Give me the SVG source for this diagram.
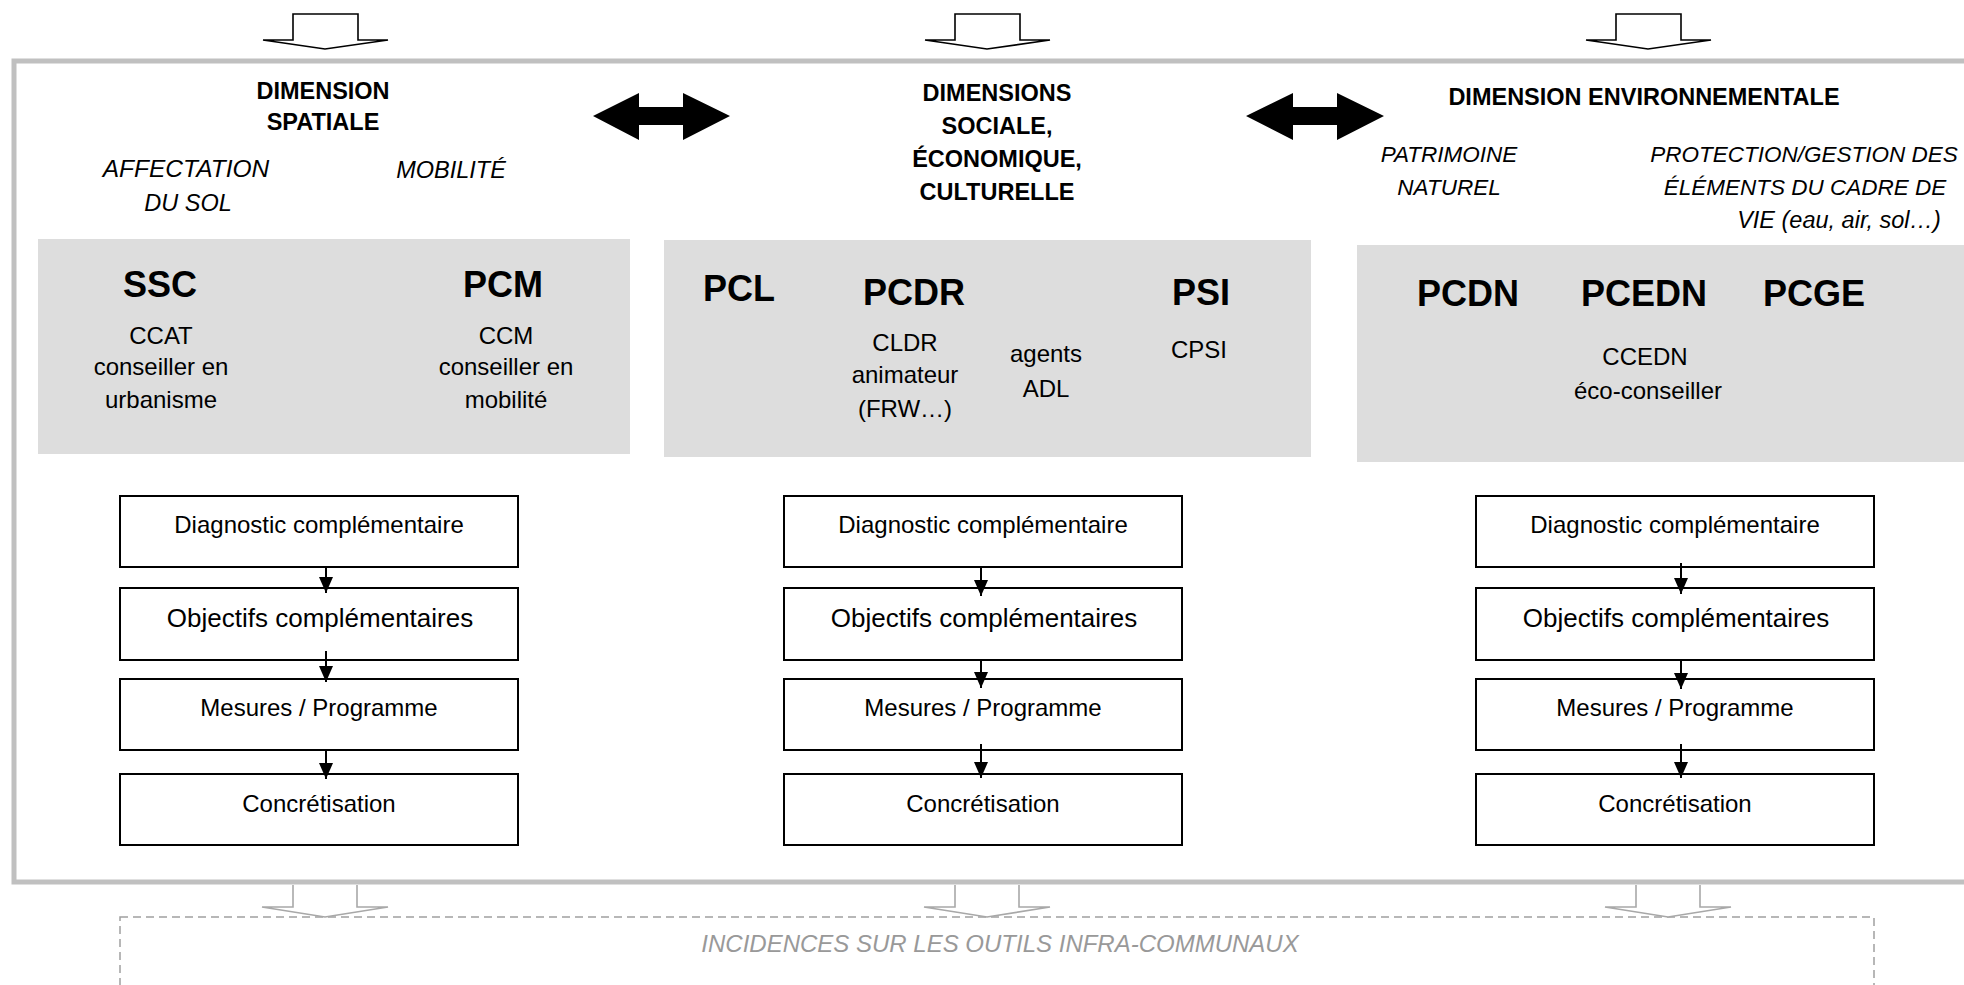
<svg xmlns="http://www.w3.org/2000/svg" width="1964" height="985" viewBox="0 0 1964 985">
<style>
text{font-family:"Liberation Sans",Arial,sans-serif;fill:#000;text-anchor:middle}
.h{font-weight:bold;font-size:23.5px}
.it{font-style:italic;font-size:23.5px}
.it2{font-style:italic;font-size:22.5px}
.big{font-weight:bold;font-size:36px}
.sm{font-size:24px}
.bx{font-size:24px}
.obj{font-size:26px}
.inc{font-style:italic;font-size:24px;fill:#999}
.blk{fill:#dddddd;stroke:none}
.step{fill:#fff;stroke:#000;stroke-width:2}
.tarr{fill:#fff;stroke:#000;stroke-width:1.6;stroke-linejoin:miter}
.barr{fill:#fff;stroke:#a8a8a8;stroke-width:1.6}
.dbl{fill:#000}
.con{stroke:#000;stroke-width:2;fill:none}
</style>
<defs>
<marker id="ah" markerWidth="16" markerHeight="14" refX="16" refY="7" orient="auto" markerUnits="userSpaceOnUse" viewBox="0 0 16 14">
<path d="M0,0 L16,7 L0,14 Z" fill="#000"/>
</marker>
</defs>
<rect width="1964" height="985" fill="#fff"/>

<!-- dashed bottom box -->
<g id="incidences">
<rect x="120" y="917" width="1754" height="120" fill="none" stroke="#a0a0a0" stroke-width="1.5" stroke-dasharray="8 5"/>
<text class="inc" x="1000" y="952">INCIDENCES SUR LES OUTILS INFRA-COMMUNAUX</text>
</g>

<!-- main frame -->
<g id="frame">
<rect x="14" y="61" width="1990" height="821" fill="#fff" stroke="#c0c0c0" stroke-width="5"/>
</g>

<!-- top input arrows -->
<g id="top-arrows">
<path class="tarr" d="M293,14 H358 V40 H388 L325,49 L263,40 H293 Z"/>
<path class="tarr" d="M955,14 H1020 V40 H1050 L987,49 L925,40 H955 Z"/>
<path class="tarr" d="M1616,14 H1681 V40 H1711 L1648,49 L1586,40 H1616 Z"/>
</g>

<!-- bottom output arrows -->
<g id="bottom-arrows">
<path class="barr" d="M293,885 V907 H262 L325,917 L388,907 H357 V885"/>
<path class="barr" d="M955,885 V907 H924 L987,917 L1050,907 H1019 V885"/>
<path class="barr" d="M1636,885 V907 H1605 L1668,917 L1731,907 H1700 V885"/>
</g>

<!-- double arrows -->
<g id="double-arrows">
<path class="dbl" d="M593,116 L639,93 V107 H683 V93 L730,116 L683,140 V125 H639 V140 Z"/>
<path class="dbl" d="M1246,116 L1293,93 V107 H1337 V93 L1384,116 L1337,140 V125 H1293 V140 Z"/>
</g>

<!-- headers -->
<g id="dim-spatiale">
<text class="h" x="323" y="99">DIMENSION</text>
<text class="h" x="323" y="130">SPATIALE</text>
<text class="it" x="186" y="177" style="font-size:24.5px">AFFECTATION</text>
<text class="it" x="188" y="211">DU SOL</text>
<text class="it" x="451" y="178">MOBILITÉ</text>
</g>
<g id="dim-sociale">
<text class="h" x="997" y="101">DIMENSIONS</text>
<text class="h" x="997" y="134">SOCIALE,</text>
<text class="h" x="997" y="167">ÉCONOMIQUE,</text>
<text class="h" x="997" y="200">CULTURELLE</text>
</g>
<g id="dim-env">
<text class="h" x="1644" y="105">DIMENSION ENVIRONNEMENTALE</text>
<text class="it2" x="1449" y="162">PATRIMOINE</text>
<text class="it2" x="1449" y="195">NATUREL</text>
<text class="it2" x="1804" y="162">PROTECTION/GESTION DES</text>
<text class="it2" x="1805" y="195">ÉLÉMENTS DU CADRE DE</text>
<text class="it" x="1839" y="228">VIE (eau, air, sol…)</text>
</g>

<!-- grey tool blocks -->
<g id="block-spatial">
<rect class="blk" x="38" y="239" width="592" height="215"/>
<text class="big" x="160" y="297">SSC</text>
<text class="sm" x="161" y="344">CCAT</text>
<text class="sm" x="161" y="375">conseiller en</text>
<text class="sm" x="161" y="408">urbanisme</text>
<text class="big" x="503" y="297">PCM</text>
<text class="sm" x="506" y="344">CCM</text>
<text class="sm" x="506" y="375">conseiller en</text>
<text class="sm" x="506" y="408">mobilité</text>
</g>
<g id="block-social">
<rect class="blk" x="664" y="240" width="647" height="217"/>
<text class="big" x="739" y="301">PCL</text>
<text class="big" x="914" y="305">PCDR</text>
<text class="big" x="1201" y="305">PSI</text>
<text class="sm" x="905" y="351">CLDR</text>
<text class="sm" x="905" y="383">animateur</text>
<text class="sm" x="905" y="417">(FRW…)</text>
<text class="sm" x="1046" y="362">agents</text>
<text class="sm" x="1046" y="397">ADL</text>
<text class="sm" x="1199" y="358">CPSI</text>
</g>
<g id="block-env">
<rect class="blk" x="1357" y="245" width="620" height="217"/>
<text class="big" x="1468" y="306">PCDN</text>
<text class="big" x="1644" y="306">PCEDN</text>
<text class="big" x="1814" y="306">PCGE</text>
<text class="sm" x="1645" y="365">CCEDN</text>
<text class="sm" x="1648" y="399">éco-conseiller</text>
</g>

<!-- process steps column 1 -->
<g id="c1-diag"><rect class="step" x="120" y="496" width="398" height="71"/><text class="bx" x="319" y="533">Diagnostic complémentaire</text></g>
<g id="c1-obj"><rect class="step" x="120" y="588" width="398" height="72"/><text class="obj" x="320" y="627">Objectifs complémentaires</text></g>
<g id="c1-mes"><rect class="step" x="120" y="679" width="398" height="71"/><text class="bx" x="319" y="716">Mesures / Programme</text></g>
<g id="c1-con"><rect class="step" x="120" y="774" width="398" height="71"/><text class="bx" x="319" y="812">Concrétisation</text></g>

<!-- column 2 -->
<g id="c2-diag"><rect class="step" x="784" y="496" width="398" height="71"/><text class="bx" x="983" y="533">Diagnostic complémentaire</text></g>
<g id="c2-obj"><rect class="step" x="784" y="588" width="398" height="72"/><text class="obj" x="984" y="627">Objectifs complémentaires</text></g>
<g id="c2-mes"><rect class="step" x="784" y="679" width="398" height="71"/><text class="bx" x="983" y="716">Mesures / Programme</text></g>
<g id="c2-con"><rect class="step" x="784" y="774" width="398" height="71"/><text class="bx" x="983" y="812">Concrétisation</text></g>

<!-- column 3 -->
<g id="c3-diag"><rect class="step" x="1476" y="496" width="398" height="71"/><text class="bx" x="1675" y="533">Diagnostic complémentaire</text></g>
<g id="c3-obj"><rect class="step" x="1476" y="588" width="398" height="72"/><text class="obj" x="1676" y="627">Objectifs complémentaires</text></g>
<g id="c3-mes"><rect class="step" x="1476" y="679" width="398" height="71"/><text class="bx" x="1675" y="716">Mesures / Programme</text></g>
<g id="c3-con"><rect class="step" x="1476" y="774" width="398" height="71"/><text class="bx" x="1675" y="812">Concrétisation</text></g>

<!-- connectors -->
<g id="connectors">
<line class="con" x1="326" y1="567" x2="326" y2="593" marker-end="url(#ah)"/>
<line class="con" x1="326" y1="651" x2="326" y2="682" marker-end="url(#ah)"/>
<line class="con" x1="326" y1="750" x2="326" y2="779" marker-end="url(#ah)"/>
<line class="con" x1="981" y1="567" x2="981" y2="596" marker-end="url(#ah)"/>
<line class="con" x1="981" y1="660" x2="981" y2="688" marker-end="url(#ah)"/>
<line class="con" x1="981" y1="744" x2="981" y2="778" marker-end="url(#ah)"/>
<line class="con" x1="1681" y1="563" x2="1681" y2="594" marker-end="url(#ah)"/>
<line class="con" x1="1681" y1="660" x2="1681" y2="689" marker-end="url(#ah)"/>
<line class="con" x1="1681" y1="744" x2="1681" y2="778" marker-end="url(#ah)"/>
</g>
</svg>
